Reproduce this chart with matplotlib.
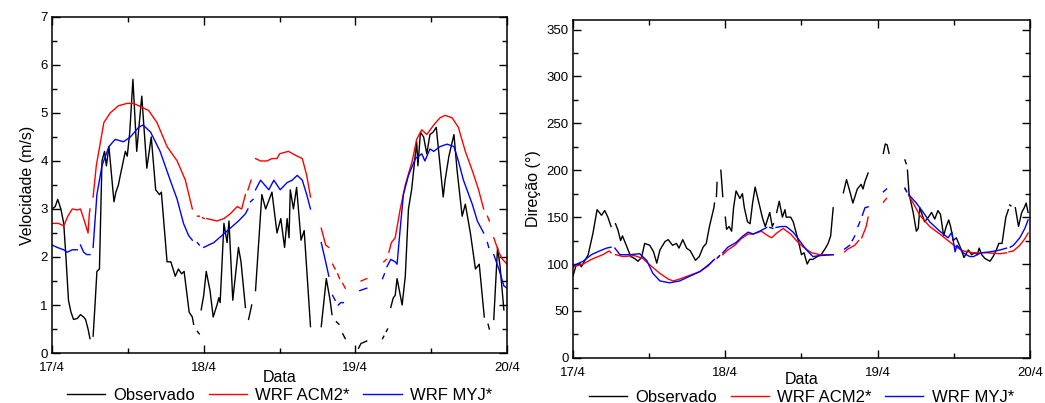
import numpy as np
import matplotlib
matplotlib.use("Agg")
import matplotlib.pyplot as plt
from matplotlib.ticker import MultipleLocator, FixedLocator

plt.rcParams['font.family'] = ['Liberation Sans', 'DejaVu Sans']

N = None
# ---------------- Velocity (m/s) ----------------  time in hours from 17/4 00h
vel_obs_t = [0, 0.5, 0.9, 1.4, 1.85, 2.2, 2.6, 3.0, 3.4, 4.0, 4.5, 5.0, 5.3, 5.7, 6.0, 6.2,
             6.5, 6.8, 7.1, 7.5, 7.9, 8.3, 8.6, 9.0, 9.8, 10.1, 10.5, 10.8, 11.6, 11.9, 12.3, 12.8,
             13.4, 14.2, 15.0, 15.7, 16.4, 17.0, 17.3, 18.2, 18.8, 19.5, 20.0, 20.5, 20.9, 21.7,
             22.2, 22.4, 22.7, 23.0, 23.3, 23.45, 23.6, 24.0, 24.4, 25.0, 25.5, 26.1, 26.4, 26.6,
             27.2, 27.7, 28.0, 28.6, 29.5, 29.9, 30.6, 30.8, 31.1, 31.6, 31.9, 32.2, 33.2, 33.8,
             34.8, 35.6, 36.2, 36.8, 37.2, 37.5, 37.7, 38.2, 38.7, 39.4, 39.9, 40.9, 41.5, 42.6,
             43.4, 44.0, 44.3, 44.6, 45.0, 45.4, 45.7, 46.0, 46.4, 47.0, 48.5, 48.9, 49.8, 50.0,
             52.3, 52.5, 52.7, 52.9, 53.1, 53.3, 53.6, 54.0, 54.3, 54.6, 55.4, 55.9, 56.4, 56.9,
             57.7, 57.9, 58.3, 58.8, 59.3, 59.8, 60.3, 60.8, 61.9, 62.2, 62.8, 63.6, 64.1, 64.9,
             65.4, 66.2, 67.0, 67.6, 68.4, 68.7, 69.0, 69.2, 69.5, 69.9, 70.5, 70.9, 71.5]
vel_obs_v = [3.0, 3.05, 3.2, 3.0, 2.7, 2.0, 1.1, 0.85, 0.7, 0.72, 0.8, 0.75, 0.7, 0.5, 0.3, N,
             0.35, 1.0, 1.7, 1.75, 4.0, 4.2, 3.9, 4.3, 3.15, 3.35, 3.5, 3.7, 4.2, 4.1, 4.6, 5.7,
             4.2, 5.35, 3.85, 4.5, 3.4, 3.3, 3.35, 1.9, 1.9, 1.6, 1.75, 1.65, 1.7, 0.85,
             0.75, 0.6, N, 0.45, 0.4, N, 0.9, 1.2, 1.7, 1.3, 0.75, 1.0, 1.15, 1.05,
             2.7, 2.3, 2.75, 1.1, 2.2, 1.9, 0.95, N, 0.7, 1.0, N, 1.3, 3.3, 3.0,
             3.35, 2.5, 2.8, 2.2, 2.8, 2.4, 3.4, 3.0, 3.45, 2.35, 2.55, 0.55, N, 0.55,
             1.55, 1.1, 0.8, N, 0.65, 0.6, N, 0.4, 0.3, N, 0.1, 0.2, 0.25, N,
             0.3, 0.35, N, 0.45, 0.5, N, 0.95, 1.15, 1.2, 1.55, 1.0, 1.6, 3.0, 3.4,
             4.4, 3.9, 4.6, 4.5, 4.15, 4.55, 4.6, 4.7, 3.25, 3.6, 4.1, 4.55, 3.8, 2.85,
             3.1, 2.5, 1.75, 1.85, 0.75, N, 0.6, 0.5, N, 0.7, 2.2, 1.8, 0.9]

vel_acm_t = [0, 1.0, 1.85, 2.5, 3.2, 4.0, 4.5, 5.0, 5.7, 5.9, 6.0, 6.2, 6.5, 7.0, 7.4, 8.2, 9.2,
             10.5, 11.9, 12.9, 14.5, 15.3, 16.6, 18.2, 19.8, 21.1, 22.2, 22.5, 23.0, 23.3, 23.55,
             23.8, 24.1, 24.3, 24.5, 26.1, 27.2, 28.2, 29.3, 30.0, 30.6, 30.8, 31.0, 31.5, 31.9,
             32.2, 33.0, 34.0, 34.8, 35.6, 36.0, 37.4, 38.8, 39.6, 40.3, 40.9, 41.5, 42.6, 43.3,
             43.8, 44.1, 44.4, 44.8, 45.0, 45.2, 45.5, 45.8, 46.0, 46.4, 47.0, 48.9, 49.8, 50.0,
             52.5, 52.9, 53.1, 53.3, 53.7, 54.3, 55.1, 55.9, 57.0, 57.7, 58.5, 59.3, 60.4, 61.4,
             62.2, 63.3, 64.3, 65.4, 66.5, 67.5, 68.3, 68.6, 68.9, 69.2, 69.5, 69.9, 70.7, 71.3, 72.0]
vel_acm_v = [2.7, 2.7, 2.65, 2.85, 3.0, 2.98, 3.0, 2.8, 2.5, 2.9, 3.0, N, 3.25, 3.9, 4.2, 4.8, 5.0,
             5.15, 5.2, 5.2, 5.1, 5.05, 4.8, 4.3, 4.0, 3.6, 3.0, N, 2.85, 2.85, N,
             2.82, 2.8, N, 2.8, 2.75, 2.8, 2.9, 3.05, 3.0, 3.3, N, 3.4, 3.6, N,
             4.05, 4.0, 4.0, 4.05, 4.05, 4.15, 4.2, 4.1, 4.05, 3.7, 3.25, N, 2.6, 2.25,
             2.2, N, 1.85, 1.75, N, 1.65, 1.55, N, 1.45, 1.35, N, 1.5, 1.55, N,
             1.9, 1.95, N, 2.1, 2.3, 2.4, 3.0, 3.5, 4.0, 4.45, 4.65, 4.55, 4.75, 4.9,
             4.95, 4.9, 4.7, 4.2, 3.8, 3.4, 3.0, N, 2.85, 2.75, N, 2.4, 2.1, 1.95, 1.85]

vel_myj_t = [0, 0.8, 1.85, 2.4, 3.2, 4.0, 4.2, 4.5, 5.0, 5.5, 6.0, 6.2, 6.5, 7.1, 7.9, 9.0, 10.0,
             11.3, 12.4, 13.7, 14.4, 15.6, 17.1, 18.7, 19.8, 20.8, 21.6, 22.2, 22.5, 23.0, 23.3,
             23.6, 24.0, 25.6, 26.9, 28.2, 29.5, 30.6, 31.0, 31.2, 31.4, 31.8, 32.0, 32.2, 33.0,
             34.3, 35.1, 36.1, 37.2, 38.0, 38.8, 39.6, 40.3, 40.9, 41.5, 42.6, 43.3, 43.8, 44.1,
             44.4, 44.8, 45.0, 45.3, 45.7, 46.1, 47.0, 48.7, 49.8, 50.0, 52.3, 52.6, 52.8, 53.0,
             53.6, 54.3, 54.6, 55.1, 55.6, 56.4, 57.5, 58.5, 59.0, 59.8, 60.4, 61.4, 62.5, 63.6,
             64.3, 65.1, 66.5, 67.3, 68.3, 68.6, 68.9, 69.1, 69.5, 69.9, 70.7, 71.5, 72.0]
vel_myj_v = [2.25, 2.2, 2.15, 2.1, 2.15, 2.15, N, 2.25, 2.1, 2.05, 2.05, N, 2.2, 3.3, 3.9, 4.3, 4.45,
             4.4, 4.5, 4.7, 4.75, 4.6, 4.2, 3.6, 3.2, 2.7, 2.45, 2.35, N, 2.3, 2.25,
             N, 2.2, 2.3, 2.45, 2.6, 2.75, 2.9, 3.0, N, 3.15, 3.2, N, 3.4, 3.6,
             3.4, 3.6, 3.4, 3.55, 3.6, 3.7, 3.6, 3.3, 3.0, N, 2.3, 1.9, 1.6, N,
             1.2, 1.1, N, 1.0, 1.05, 1.05, N, 1.3, 1.35, N, 1.55, 1.65, N, 1.8,
             1.95, 1.9, 1.85, 2.6, 3.3, 3.7, 4.05, 4.15, 4.0, 4.25, 4.2, 4.3, 4.35, 4.3,
             4.0, 3.6, 3.1, 2.75, 2.5, N, 2.3, 2.2, N, 2.05, 1.75, 1.4, 1.35]

# ---------------- Direction (deg) ----------------
dir_obs_t = [0, 0.5, 1.05, 1.3, 1.8, 2.4, 3.15, 3.8, 4.5, 5.0, 5.5, 6.0, 6.3, 6.7, 7.1, 7.5, 7.8,
             8.4, 9.1, 9.7, 10.25, 10.8, 11.3, 12.1, 12.7, 13.2, 13.7, 14.5, 15.0, 15.7, 16.3,
             16.7, 17.3, 17.9, 18.5, 19.3, 19.9, 20.5, 21.0, 21.5, 22.2, 22.3, 22.45, 22.6, 22.7,
             22.9, 23.3, 23.6, 23.8, 24.0, 24.2, 24.6, 25.0, 25.3, 25.7, 26.3, 26.7, 27.0, 27.5,
             27.9, 28.3, 28.7, 29.2, 29.5, 29.9, 30.3, 31.0, 31.4, 31.6, 31.9, 32.1, 32.5, 33.0,
             33.4, 33.6, 34.3, 34.7, 34.9, 35.5, 36.0, 36.4, 36.9, 37.3, 37.8, 38.5, 39.1, 39.7,
             40.2, 40.6, 41.0, 41.5, 42.6, 43.1, 43.6, 44.1, 44.8, 45.4, 45.7, 46.0, 46.5, 47.0,
             48.9, 49.2, 49.5, 49.8, 50.5, 52.3, 52.5, 52.6, 52.7, 52.95, 53.6, 54.1, 54.4, 54.65,
             54.9, 55.4, 56.0, 56.5, 57.0, 57.5, 57.9, 58.4, 58.8, 59.2, 59.5, 59.9, 60.4, 60.9,
             61.2, 61.6, 62.3, 62.8, 63.3, 63.7, 64.0, 64.4, 64.9, 65.7, 66.2, 66.7, 67.1, 67.6,
             68.2, 68.6, 68.7, 68.8, 69.0, 69.2, 69.7, 70.2, 70.7, 71.1, 71.4, 71.7]
dir_obs_v = [87, 99, 101, 97, 103, 110, 133, 158, 152, 157, 150, 140, N, 143, 136, 125, 130,
             120, 108, 106, 103, 107, 122, 120, 113, 101, 115, 124, 126, 120, 122,
             117, 126, 117, 114, 104, 108, 118, 122, 140, 160, 165, N, 172, 187,
             N, 200, 172, N, 150, 137, 140, 135, 160, 178, 170, 175, 160, 145,
             143, 165, 182, 168, 160, 148, 140, 155, 140, 143, N, 155, 167, 150,
             158, 150, 150, 145, 140, 125, 110, 112, 100, 105, 105, 108, 110, 116,
             122, 130, 160, N, 176, 190, 178, 165, 180, 185, 180, 188, 197, N,
             218, 228, 227, 218, N, 211, 207, N, 200, 175, 155, 135, 138, 160,
             155, 145, 150, 155, 148, 157, 153, 130, 140, 147, 140, 125, 128, 120,
             115, 107, 115, 110, 112, 110, 117, 110, 106, 103, 108, 115, 122, 122,
             150, 158, N, 163, 162, N, 160, 140, 155, 160, 165, 155]

dir_acm_t = [0, 1.6, 2.9, 4.7, 5.7, 6.0, 6.3, 6.7, 7.9, 9.7, 11.0, 12.3, 13.7, 15.0, 15.8, 16.8,
             18.4, 20.0, 21.3, 22.1, 22.4, 22.7, 23.0, 23.3, 23.6, 24.4, 25.5, 26.5, 27.6, 28.4,
             29.7, 30.5, 31.3, 32.1, 33.1, 34.3, 35.2, 36.3, 37.6, 38.9, 41.0, 41.5, 42.8, 43.3,
             44.4, 45.0, 45.2, 45.5, 46.2, 46.5, 47.0, 48.9, 49.4, 50.0, 52.3, 52.5, 52.7, 52.9,
             53.6, 54.65, 56.2, 57.8, 59.1, 60.4, 61.5, 63.1, 65.2, 67.3, 68.3, 68.5, 68.7, 69.4,
             70.4, 71.2, 71.7]
dir_acm_v = [97, 100, 105, 110, 114, 112, N, 110, 108, 109, 106, 98, 90, 84, 82, 84,
             88, 92, 98, 104, N, 106, 108, N, 110, 115, 120, 127, 132, 132,
             135, 131, 128, 133, 138, 132, 125, 118, 112, 110, 110, N, 113, 116,
             120, 125, N, 128, 140, 150, N, 166, 170, N, 180, 178, N, 173,
             165, 152, 140, 132, 125, 118, 114, 112, 112, 111, 112, N, 113, 114,
             120, 127, 133]

dir_myj_t = [0, 1.6, 2.9, 4.2, 5.3, 6.0, 6.2, 6.6, 7.4, 8.9, 10.5, 11.6, 12.6, 13.7, 15.2, 16.8,
             18.4, 20.0, 21.5, 22.3, 22.6, 22.8, 23.1, 23.3, 23.6, 24.4, 25.7, 26.8, 27.6, 28.4,
             29.7, 30.5, 30.8, 31.0, 31.5, 31.8, 32.0, 32.8, 33.6, 34.7, 35.7, 36.8, 37.8, 38.9,
             41.0, 41.5, 42.8, 43.6, 43.8, 44.0, 44.4, 44.6, 44.9, 45.2, 45.4, 45.6, 46.0, 46.5,
             47.0, 48.9, 49.4, 50.0, 52.3, 52.6, 52.7, 52.9, 54.1, 55.2, 56.2, 57.8, 59.1, 59.7,
             60.2, 60.5, 61.5, 62.5, 63.1, 64.3, 65.7, 67.3, 68.3, 68.6, 68.9, 69.4, 70.4, 71.2,
             71.7]
dir_myj_v = [98, 103, 110, 114, 117, 118, N, 117, 110, 110, 111, 104, 90, 82, 80, 82,
             87, 92, 100, 105, N, 107, 109, N, 112, 118, 123, 130, 134, 132,
             136, 139, N, 139, 138, N, 139, 140, 140, 134, 125, 115, 108, 109,
             110, N, 116, 120, N, 125, 130, N, 140, 145, N, 152, 160, 161,
             N, 177, 180, N, 181, 177, N, 174, 165, 155, 145, 135, 128, 134,
             113, 120, 112, 108, 108, 112, 113, 115, 117, N, 118, 120, 128, 138,
             147]

xtick_labels = ['17/4', '18/4', '19/4', '20/4']
legend_labels = ['Observado', 'WRF ACM2*', 'WRF MYJ*']
colors = ['black', '#ff0000', '#0000ff']


def arr(a):
    return np.array(a, dtype=float)


fig = plt.figure(figsize=(10.45, 4.03), dpi=100)
ax1 = fig.add_axes([0.0498, 0.124, 0.4354, 0.834])
ax2 = fig.add_axes([0.5483, 0.112, 0.4373, 0.838])

panels = [
    (ax1, [(vel_obs_t, vel_obs_v), (vel_acm_t, vel_acm_v), (vel_myj_t, vel_myj_v)],
     (0, 7), 1, 0.5, 'Velocidade (m/s)', -0.05, -0.127),
    (ax2, [(dir_obs_t, dir_obs_v), (dir_acm_t, dir_acm_v), (dir_myj_t, dir_myj_v)],
     (0, 360), 50, 25, 'Direção (°)', -0.042, -0.117),
]

for ax, series, ylim, maj, mnr, ylab, laby, legy in panels:
    handles = []
    for (t, v), c, lab in zip(series, colors, legend_labels):
        h, = ax.plot(arr(t), arr(v), color=c, lw=1.0, label=lab)
        handles.append(h)
    ax.set_xlim(0, 72)
    ax.set_ylim(*ylim)
    ax.xaxis.set_major_locator(FixedLocator([0, 24, 48, 72]))
    ax.xaxis.set_minor_locator(FixedLocator([12, 36, 60]))
    ax.set_xticklabels(xtick_labels)
    ax.yaxis.set_major_locator(MultipleLocator(maj))
    ax.yaxis.set_minor_locator(MultipleLocator(mnr))
    ax.tick_params(which='both', direction='in', top=True, right=True, labelsize=9.5, width=1.0)
    ax.tick_params(which='major', length=6, pad=3)
    ax.tick_params(axis='x', which='major', pad=6.5)
    ax.tick_params(which='minor', length=3.5)
    for s in ax.spines.values():
        s.set_linewidth(1.1)
    ax.set_ylabel(ylab, fontsize=11.5, labelpad=4)
    ax.set_xlabel('Data', fontsize=11.5)
    ax.xaxis.set_label_coords(0.5, laby)
    leg = ax.legend(handles=handles, loc='center', bbox_to_anchor=(0.5, legy), ncol=3,
                    frameon=False, fontsize=12, handlelength=2.3, columnspacing=0.8,
                    handletextpad=0.5, borderaxespad=0)

fig.savefig('out.png', dpi=100)
